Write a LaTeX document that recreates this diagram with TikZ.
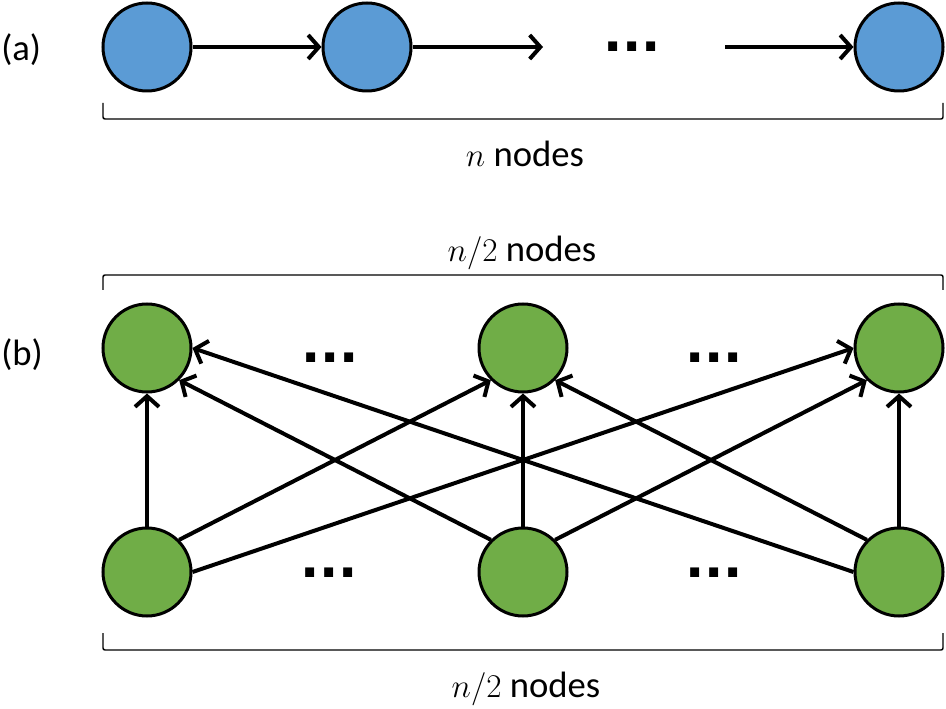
\documentclass[tikz,border=0pt]{standalone}
\usepackage{fontspec}
\usepackage{amsmath}
\setmainfont{Carlito}
\newfontfamily\dotfont{DejaVu Sans}
\usetikzlibrary{arrows.meta}
\definecolor{chainblue}{HTML}{5B9BD5}
\definecolor{layergreen}{HTML}{70AD47}

\begin{document}
\begin{tikzpicture}[x=0.75pt, y=-0.75pt,
    chain/.style={circle, draw, line width=2.25pt, fill=chainblue, minimum size=66pt, inner sep=0pt},
    layer/.style={chain, fill=layergreen},
    link/.style={line width=3pt, -{Straight Barb[length=8pt, width=18pt]}},
    bracket/.style={line width=1.1pt, rounded corners=1.5pt},
    etc/.style={font=\dotfont\bfseries\fontsize{38}{40}\selectfont, anchor=base, inner sep=0pt},
    count/.style={font=\fontsize{27.5}{32}\selectfont, inner sep=0pt}]
    \useasboundingbox (0,0) rectangle (946,709);

    % (a) Chain of n nodes
    \node[count, anchor=west] (tagA) at (1,50) {(a)};
    \node[chain] (a1) at (147,47) {};
    \node[chain] (a2) at (367,47) {};
    \node[chain] (a3) at (899,47) {};
    \coordinate (aend) at (543,47);
    \coordinate (astart) at (725,47);
    \draw[link] (a1) -- (a2);
    \draw[link] (a2) -- (aend);
    \draw[link] (astart) -- (a3);
    \node[etc] (adots) at (632,52) {...};
    \draw[bracket] (103,103) -- (103,119) -- (943,119) -- (943,103);
    \node[count, anchor=base] (acount) at (525,167) {$n$ nodes};

    % (b) Two layers of n/2 nodes
    \node[count, anchor=west] (tagB) at (1,355) {(b)};
    \foreach \i/\x in {1/147, 2/523, 3/899} {
        \node[layer] (t\i) at (\x,348) {};
        \node[layer] (b\i) at (\x,572) {};
        \draw[link] (b\i) -- (t\i);
    }
    \draw[link] (b1.north east) -- (t2.south west);
    \draw[link] (b1.east) -- (t3.west);
    \draw[link] (b2.north west) -- (t1.south east);
    \draw[link] (b2.north east) -- (t3.south west);
    \draw[link] (b3.west) -- (t1.east);
    \draw[link] (b3.north west) -- (t2.south east);
    \node[etc] (tdots1) at (330,362) {...};
    \node[etc] (tdots2) at (714,362) {...};
    \node[etc] (bdots1) at (329,577) {...};
    \node[etc] (bdots2) at (714,577) {...};
    \draw[bracket] (103,290) -- (103,275) -- (943,275) -- (943,290);
    \node[count, anchor=base] (tcount) at (522,262) {$n/2$ nodes};
    \draw[bracket] (103,633) -- (103,650) -- (943,650) -- (943,633);
    \node[count, anchor=base] (bcount) at (526,697) {$n/2$ nodes};
\end{tikzpicture}
\end{document}
